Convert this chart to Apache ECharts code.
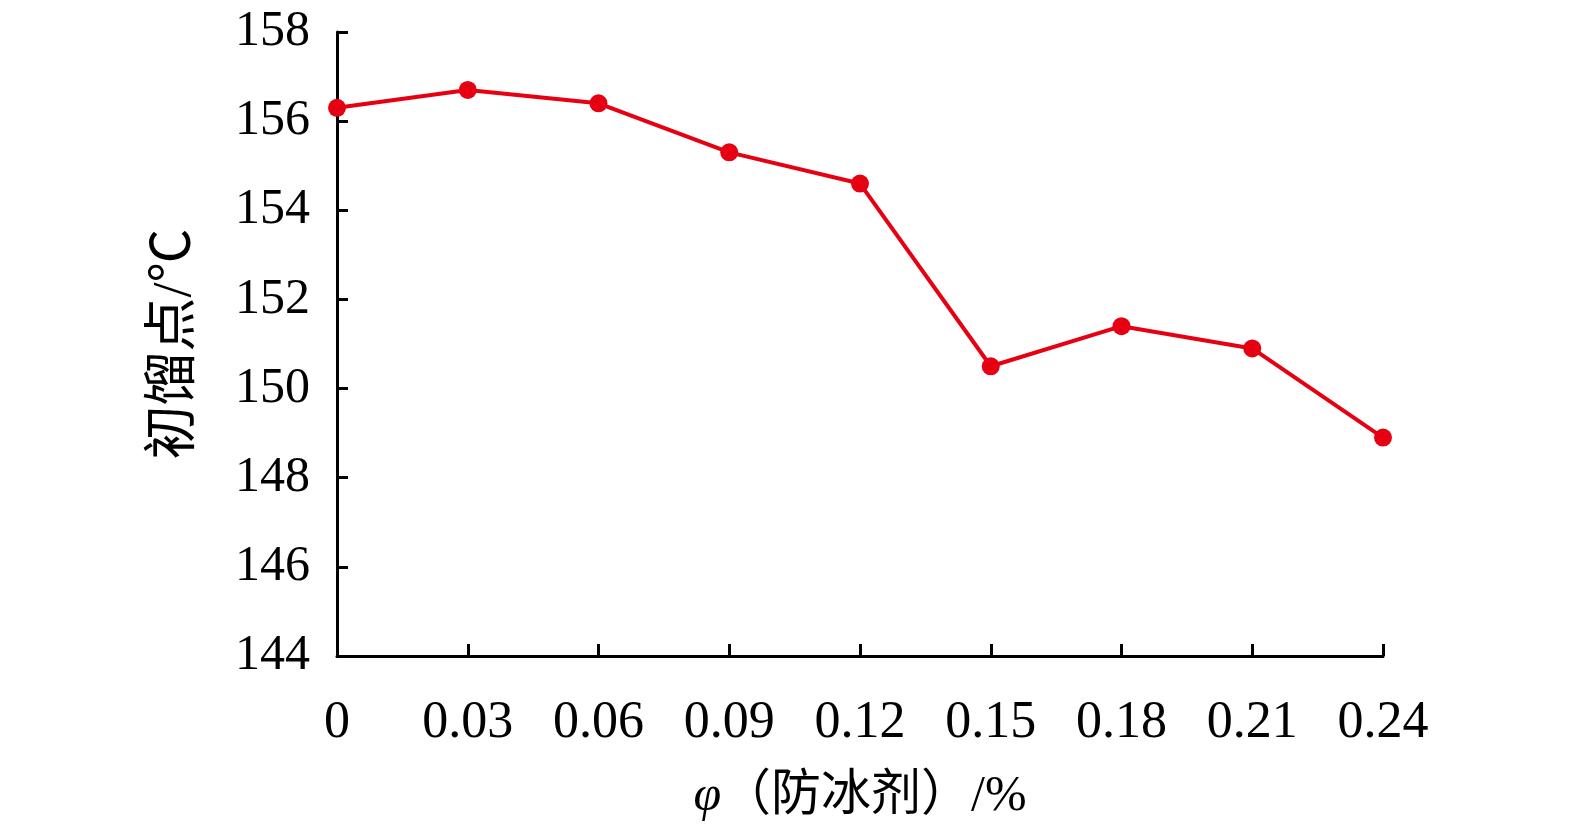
<!DOCTYPE html>
<html>
<head>
<meta charset="utf-8">
<script src="https://cdn.jsdelivr.net/npm/echarts@6/dist/echarts.min.js"></script>
<style>html,body{margin:0;padding:0;background:#fff;}#c{width:1575px;height:827px;}</style>
</head>
<body>
<div id="c"></div>
<script>
const categories = ['0', '0.03', '0.06', '0.09', '0.12', '0.15', '0.18', '0.21', '0.24'];
const values = [156.3, 156.7, 156.4, 155.3, 154.6, 150.5, 151.4, 150.9, 148.9];
const yMin = 144, yMax = 158, yStep = 2;
const serif = '"Times New Roman", "Liberation Serif", "Noto Sans CJK SC", serif';

const chart = echarts.init(document.getElementById('c'));
chart.setOption({
  backgroundColor: '#fff',
  animation: false,
  grid: { left: 337, right: 192, top: 32, bottom: 170, containLabel: false },
  xAxis: {
    type: 'category',
    data: categories,
    boundaryGap: false,
    axisLine: { lineStyle: { color: '#000', width: 3 } },
    axisTick: { inside: true, length: 12, alignWithLabel: true, lineStyle: { color: '#000', width: 3 } },
    axisLabel: { color: '#000', fontSize: 52, fontFamily: serif, margin: 41, interval: 0 },
    splitLine: { show: false },
    name: '{i|φ}（防冰剂）/%',
    nameLocation: 'middle',
    nameGap: 116,
    nameTextStyle: {
      color: '#000', fontSize: 50, fontFamily: serif,
      rich: { i: { fontStyle: 'italic', fontSize: 50, fontFamily: serif, color: '#000' } }
    }
  },
  yAxis: {
    type: 'value',
    min: yMin, max: yMax, interval: yStep,
    axisLine: { show: true, lineStyle: { color: '#000', width: 3 } },
    axisTick: { show: true, inside: true, length: 11, lineStyle: { color: '#000', width: 3 } },
    axisLabel: { color: '#000', fontSize: 50, fontFamily: serif, margin: 27 },
    splitLine: { show: false },
    name: '初馏点/℃',
    nameLocation: 'middle',
    nameGap: 134,
    nameRotate: 90,
    nameTextStyle: { color: '#000', fontSize: 54, fontFamily: serif }
  },
  series: [{
    type: 'line',
    data: values,
    symbol: 'circle',
    symbolSize: 18,
    itemStyle: { color: '#e60012' },
    lineStyle: { color: '#e60012', width: 4 }
  }]
});
</script>
</body>
</html>
